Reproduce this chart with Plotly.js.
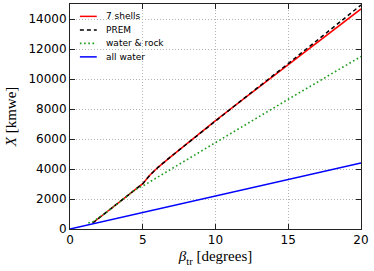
<!DOCTYPE html>
<html>
<head>
<meta charset="utf-8">
<script src="https://cdn.plot.ly/plotly-3.0.1.min.js"></script>
<style>html,body{margin:0;padding:0;background:#fff;}#chart{width:374px;height:271px;}</style>
</head>
<body>
<div id="chart"></div>
<script>
// Data
const shellsX = [1.56, 2.5, 3.67, 4.12, 4.47, 5.0, 5.5, 6.07, 7.0, 8.0, 10, 12, 15, 18, 20];
const shellsY = [400, 1110, 2000, 2350, 2620, 3020, 3600, 4130, 4880, 5660, 7230, 8720, 10950, 13180, 14670];

const premX = [1.56, 2.5, 3.67, 4.12, 4.47, 5.0, 5.5, 6.07, 7.0, 8.0, 10, 12, 15, 18, 20];
const premY = [400, 1110, 2000, 2350, 2620, 3020, 3600, 4130, 4880, 5660, 7230, 8740, 11030, 13350, 14930];

const rockX = [1.26, 1.6, 2.5, 3.67, 4.47, 5.15, 6.0, 7.9, 10, 15, 20];
const rockY = [400, 500, 1110, 2000, 2620, 2950, 3450, 4510, 5760, 8650, 11500];

const waterX = [0, 5, 10, 15, 20];
const waterY = [0, 1110, 2220, 3310, 4400];

const xTicks = [0, 5, 10, 15, 20];
const yTicks = [0, 2000, 4000, 6000, 8000, 10000, 12000, 14000];
const yTickText = ['0', '2000', '4000', '6000', '8000', '10000', '12000', '14000'];

const seriesNames = ['7 shells', 'PREM', 'water &amp; rock', 'all water'];
const seriesLines = [
  {color: '#ff0000', width: 1.5},
  {color: '#000000', width: 1.5, dash: '4px,3px'},
  {color: '#1a9a1a', width: 1.6, dash: '1.6px,2.6px'},
  {color: '#0000ff', width: 1.5}
];
const seriesX = [shellsX, premX, rockX, waterX];
const seriesY = [shellsY, premY, rockY, waterY];

const traces = seriesNames.map((n, i) => ({
  x: seriesX[i], y: seriesY[i], name: n, mode: 'lines', line: seriesLines[i], showlegend: false
}));

// manual compact legend (paper coordinates)
const shapes = [];
const annotations = [];
const legTop = 0.945, legStep = 0.06;
seriesNames.forEach((n, i) => {
  const yy = legTop - i * legStep;
  shapes.push({type: 'line', xref: 'paper', yref: 'paper', x0: 0.034, x1: 0.092, y0: yy, y1: yy,
               line: seriesLines[i]});
  annotations.push({xref: 'paper', yref: 'paper', x: 0.118, y: yy, xanchor: 'left', yanchor: 'middle',
                    text: n, showarrow: false, font: {family: 'DejaVu Sans', size: 9, color: '#000'}});
});

const axisCommon = {
  showline: true, linecolor: '#222', linewidth: 1, mirror: 'ticks',
  ticks: 'inside', ticklen: 5, tickcolor: '#222', tickwidth: 1,
  showgrid: true, gridcolor: '#b4b4b4', griddash: '1px,2px', gridwidth: 1,
  zeroline: false,
  tickfont: {family: 'DejaVu Sans', size: 12, color: '#000'}
};

const layout = {
  width: 374, height: 271,
  margin: {l: 70, r: 13, t: 4, b: 42},
  paper_bgcolor: '#fff', plot_bgcolor: '#fff',
  showlegend: false,
  shapes: shapes,
  annotations: annotations,
  xaxis: Object.assign({}, axisCommon, {
    range: [0, 20], tickvals: xTicks,
    title: {text: '<i>β</i><sub>tr</sub> [degrees]', font: {family: 'Liberation Serif', size: 15, color: '#000'}, standoff: 4}
  }),
  yaxis: Object.assign({}, axisCommon, {
    range: [0, 15000], tickvals: yTicks, ticktext: yTickText,
    title: {text: '<i>X</i> [kmwe]', font: {family: 'Liberation Serif', size: 15, color: '#000'}, standoff: 8}
  })
};

Plotly.newPlot('chart', traces, layout, {displayModeBar: false, staticPlot: true});
</script>
</body>
</html>
